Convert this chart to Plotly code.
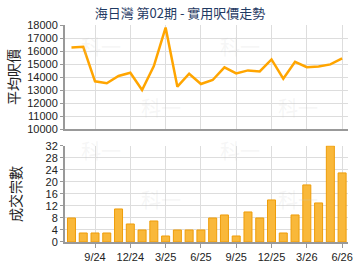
import plotly.graph_objects as go
from plotly.subplots import make_subplots

months = ["7/24", "8/24", "9/24", "10/24", "11/24", "12/24", "1/25", "2/25", "3/25",
          "4/25", "5/25", "6/25", "7/25", "8/25", "9/25", "10/25", "11/25", "12/25",
          "1/26", "2/26", "3/26", "4/26", "5/26", "6/26"]
avg_price = [16270, 16320, 13670, 13520, 14080, 14330, 13000, 14840, 17800,
             13260, 14250, 13460, 13770, 14740, 14280, 14510, 14430, 15350,
             13870, 15170, 14760, 14810, 14970, 15430]
deals = [8, 3, 3, 3, 11, 6, 4, 7, 2, 4, 4, 4, 8, 9, 2, 10, 8, 14, 3, 9, 19, 13, 32, 23]
tick_labels = ["9/24", "12/24", "3/25", "6/25", "9/25", "12/25", "3/26", "6/26"]
price_ticks = [10000, 11000, 12000, 13000, 14000, 15000, 16000, 17000, 18000]
deal_ticks = [0, 4, 8, 12, 16, 20, 24, 28, 32]

title = "海日灣 第02期 - 實用呎價走勢"

fig = make_subplots(rows=2, cols=1, vertical_spacing=0.0)

fig.add_trace(go.Scatter(x=months, y=avg_price, mode="lines",
                         line=dict(color="#FFA500", width=2.5),
                         hoverinfo="skip", showlegend=False), row=1, col=1)
fig.add_trace(go.Bar(x=months, y=deals, width=0.68,
                     marker=dict(color="#F9B83A", line=dict(color="#EE9D0A", width=1)),
                     showlegend=False), row=2, col=1)

axis_common = dict(showline=True, linecolor="#999999", linewidth=2,
                   gridcolor="#DDDDDD", gridwidth=1, zeroline=False,
                   tickfont=dict(family="Liberation Sans, Arial", size=11, color="#222222"))

xr = [-0.55, 23.5]
fig.update_xaxes(**axis_common, type="category", range=xr, tickmode="array",
                 tickvals=tick_labels, ticktext=["" for _ in tick_labels],
                 ticks="", row=1, col=1)
fig.update_xaxes(**axis_common, type="category", range=xr, tickmode="array",
                 tickvals=tick_labels, ticktext=tick_labels,
                 ticks="outside", ticklen=4, tickcolor="#999999", row=2, col=1)
fig.update_yaxes(**axis_common, range=[10000, 18000], tickmode="array",
                 tickvals=price_ticks, ticktext=[str(v) for v in price_ticks],
                 ticks="outside", ticklen=3, tickcolor="#999999",
                 title=dict(text="平均呎價", standoff=4,
                            font=dict(family="Noto Sans CJK TC", size=14, color="#222222")),
                 row=1, col=1)
fig.update_yaxes(**axis_common, range=[0, 32], tickmode="array",
                 tickvals=deal_ticks, ticktext=[str(v) for v in deal_ticks],
                 ticks="outside", ticklen=3, tickcolor="#999999",
                 title=dict(text="成交宗數", standoff=21,
                            font=dict(family="Noto Sans CJK TC", size=14, color="#222222")),
                 row=2, col=1)

fig.update_layout(yaxis=dict(domain=[0.5205, 1.0]), yaxis2=dict(domain=[0.0, 0.443]))

# watermarks
wm = []
for (x, y) in [(0.05, 0.975), (0.34, 0.62), (0.62, 0.975), (0.90, 0.62),
               (0.05, 0.42), (0.34, 0.12), (0.62, 0.42), (0.90, 0.12)]:
    wm.append(dict(text="科一", x=x, y=y, xref="paper", yref="paper", showarrow=False,
                   font=dict(family="Noto Sans CJK TC", size=20, color="rgba(200,200,200,0.18)")))

fig.update_layout(
    width=360, height=270,
    margin=dict(l=65, r=7, t=25, b=26),
    paper_bgcolor="white", plot_bgcolor="white",
    title=dict(text=title, x=0.5, xref="container", y=0.952, yref="container",
               yanchor="middle",
               font=dict(family="Noto Sans CJK TC", size=13, color="#1F3A63")),
    annotations=wm,
    bargap=0.3,
)

fig.write_html("out.html")
